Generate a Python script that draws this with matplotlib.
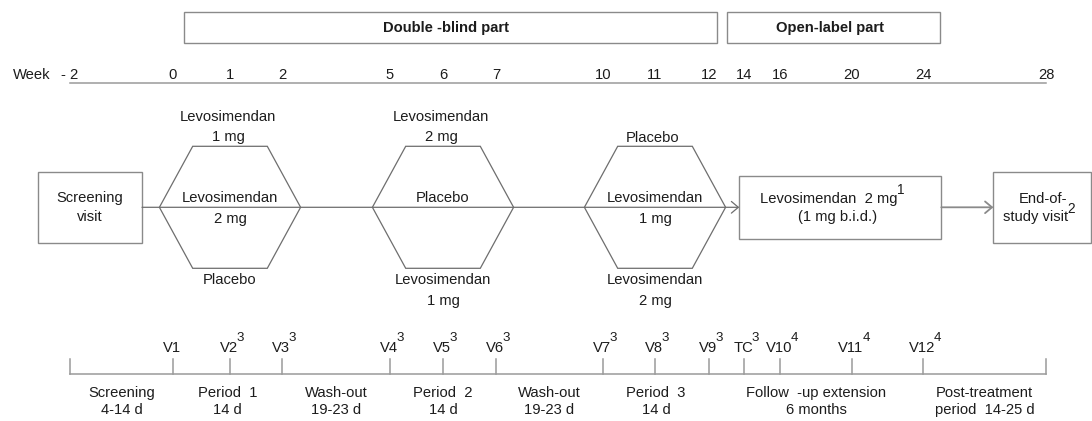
import numpy as np
import matplotlib
matplotlib.use("Agg")
import matplotlib.pyplot as plt
from matplotlib.patches import Rectangle, Polygon, FancyArrowPatch, ArrowStyle

plt.rcParams['font.family'] = ['Liberation Sans', 'DejaVu Sans']

# ---------------- data ----------------
weeks = [-2, 0, 1, 2, 5, 6, 7, 10, 11, 12, 14, 16, 20, 24, 28]
week_labels = ["- 2", "0", "1", "2", "5", "6", "7", "10", "11", "12", "14", "16", "20", "24", "28"]

visit_labels = ["V1", "V2", "V3", "V4", "V5", "V6", "V7", "V8", "V9", "TC", "V10", "V11", "V12"]
visit_weeks = [0, 1, 2, 5, 6, 7, 10, 11, 12, 14, 16, 20, 24]
visit_notes = ["", "3", "3", "3", "3", "3", "3", "3", "3", "3", "4", "4", "4"]

period_weeks = [1, 6, 11]
arm_top = ["Levosimendan\n1 mg", "Levosimendan\n2 mg", "Placebo"]
arm_mid = ["Levosimendan\n2 mg", "Placebo", "Levosimendan\n1 mg"]
arm_bottom = ["Placebo", "Levosimendan\n1 mg", "Levosimendan\n2 mg"]

phase_labels = ["Screening\n4-14 d", "Period  1\n14 d", "Wash-out\n19-23 d", "Period  2\n14 d",
                "Wash-out\n19-23 d", "Period  3\n14 d", "Follow  -up extension\n6 months",
                "Post-treatment\nperiod  14-25 d"]
phase_start = [-2, 0, 2, 5, 7, 10, 12, 24]
phase_end = [0, 2, 5, 7, 10, 12, 24, 28]

part_labels = ["Double -blind part", "Open-label part"]

# ---------------- layout (pixel positions of the week scale) ----------------
week_x = [70, 173, 230, 282, 390, 443, 496, 603, 655, 709, 744, 780, 852, 923, 1046]

def wx(w):
    return float(np.interp(w, weeks, week_x))

W, H = 1092, 421
fig = plt.figure(figsize=(W / 100, H / 100), dpi=100)
ax = fig.add_axes([0, 0, 1, 1])
ax.set_xlim(0, W)
ax.set_ylim(H, 0)
ax.axis('off')

FS = 10.6
TXT = '#1c1c1c'
BOXC = '#8a8a8a'
HEXC = '#6e6e6e'
LINEC = '#9a9a9a'
LW = 0.9

def lines_text(x, y0, s, step, **kw):
    arts = []
    for i, line in enumerate(s.split("\n")):
        arts.append(ax.text(x, y0 + i * step, line, ha='center', va='center',
                            fontsize=kw.get('fs', FS), color=TXT,
                            fontweight=kw.get('weight', 'normal')))
    return arts

def sup(artist, s, dx=-0.8, dy=2.2, fs=9.6):
    ax.annotate(s, xy=(1, 1), xycoords=artist, xytext=(dx, dy),
                textcoords='offset points', ha='left', va='center',
                fontsize=fs, color=TXT)

# ---- top part boxes ----
ax.add_patch(Rectangle((184, 11.7), 716.7 - 184, 31.6, fill=False, ec=BOXC, lw=1.0))
ax.add_patch(Rectangle((726.6, 11.7), 940 - 726.6, 31.6, fill=False, ec=BOXC, lw=1.0))
ax.text((184 + 716.7) / 2 - 4, 28, part_labels[0], ha='center', va='center',
        fontsize=FS, fontweight='bold', color=TXT)
ax.text((726.6 + 940) / 2 - 3, 28, part_labels[1], ha='center', va='center',
        fontsize=FS, fontweight='bold', color=TXT)

# ---- week scale ----
ax.text(13, 75, "Week", ha='left', va='center', fontsize=FS, color=TXT)
for w, lab in zip(weeks, week_labels):
    ax.text(wx(w), 75, lab, ha='center', va='center', fontsize=FS, color=TXT)
ax.plot([wx(weeks[0]), wx(weeks[-1])], [82.7, 82.7], color=LINEC, lw=1.1)

# ---- flow diagram ----
YC = 207.3
# screening box
ax.add_patch(Rectangle((38, 171.7), 142 - 38, 243.3 - 171.7, fill=False, ec=BOXC, lw=1.0))
lines_text(90, 197.7, "Screening\nvisit", 19.6)

# main flow line with arrow into open-label box
ax.add_patch(FancyArrowPatch((142, YC), (739.3, YC),
                             arrowstyle=ArrowStyle('->', head_length=5.0, head_width=4.2),
                             mutation_scale=1, color=HEXC, lw=LW, shrinkA=0, shrinkB=0))

# hexagons (crossover periods)
HW, FW, HH = 70.6, 37.3, 61.0
for i, pw in enumerate(period_weeks):
    cx = wx(pw)
    ax.add_patch(Polygon([(cx - HW, YC), (cx - FW, YC - HH), (cx + FW, YC - HH),
                          (cx + HW, YC), (cx + FW, YC + HH), (cx - FW, YC + HH)],
                         closed=True, fill=False, ec=HEXC, lw=LW))
    top = arm_top[i]
    n = top.count("\n") + 1
    lines_text(cx - 2, 137.5 - (n - 1) * 20.5, top, 20.5)
    lines_text(cx, 198.5, arm_mid[i], 20.8)
    lines_text(cx, 280.5, arm_bottom[i], 20.8)

# open-label treatment box
ax.add_patch(Rectangle((739.3, 175.7), 941.3 - 739.3, 239 - 175.7, fill=False, ec=BOXC, lw=1.0))
t1 = ax.text(829, 199, "Levosimendan  2 mg", ha='center', va='center', fontsize=FS, color=TXT)
sup(t1, "1", dx=-0.5, dy=1.2, fs=9.8)
ax.text(838, 217.3, "(1 mg b.i.d.)", ha='center', va='center', fontsize=FS, color=TXT)

# arrow to end-of-study visit
ax.add_patch(FancyArrowPatch((941.3, YC), (993.4, YC),
                             arrowstyle=ArrowStyle('->', head_length=5.0, head_width=4.2),
                             mutation_scale=1, color=BOXC, lw=1.3, shrinkA=0, shrinkB=0))
ax.add_patch(Rectangle((993.4, 171.7), 1091 - 993.4, 243.3 - 171.7, fill=False, ec=BOXC, lw=1.0))
ax.text(1043, 199, "End-of-", ha='center', va='center', fontsize=FS, color=TXT)
t2 = ax.text(1036, 217.3, "study visit", ha='center', va='center', fontsize=FS, color=TXT)
sup(t2, "2", dx=-0.5, dy=0.8, fs=9.8)

# ---- visit timeline ----
YL = 373.8
ax.plot([wx(weeks[0]), wx(weeks[-1])], [YL, YL], color=LINEC, lw=1.1)
for w in [weeks[0], weeks[-1]] + visit_weeks:
    ax.plot([wx(w), wx(w)], [YL, 358.5], color=LINEC, lw=1.1)
for w, lab, note in zip(visit_weeks, visit_labels, visit_notes):
    t = ax.text(wx(w) - 1, 348.5, lab, ha='center', va='center', fontsize=FS, color=TXT)
    if note:
        sup(t, note)

for lab, a, b in zip(phase_labels, phase_start, phase_end):
    lines_text((wx(a) + wx(b)) / 2, 393.3, lab, 16.9)

fig.savefig("out.png", dpi=100, facecolor='white')
